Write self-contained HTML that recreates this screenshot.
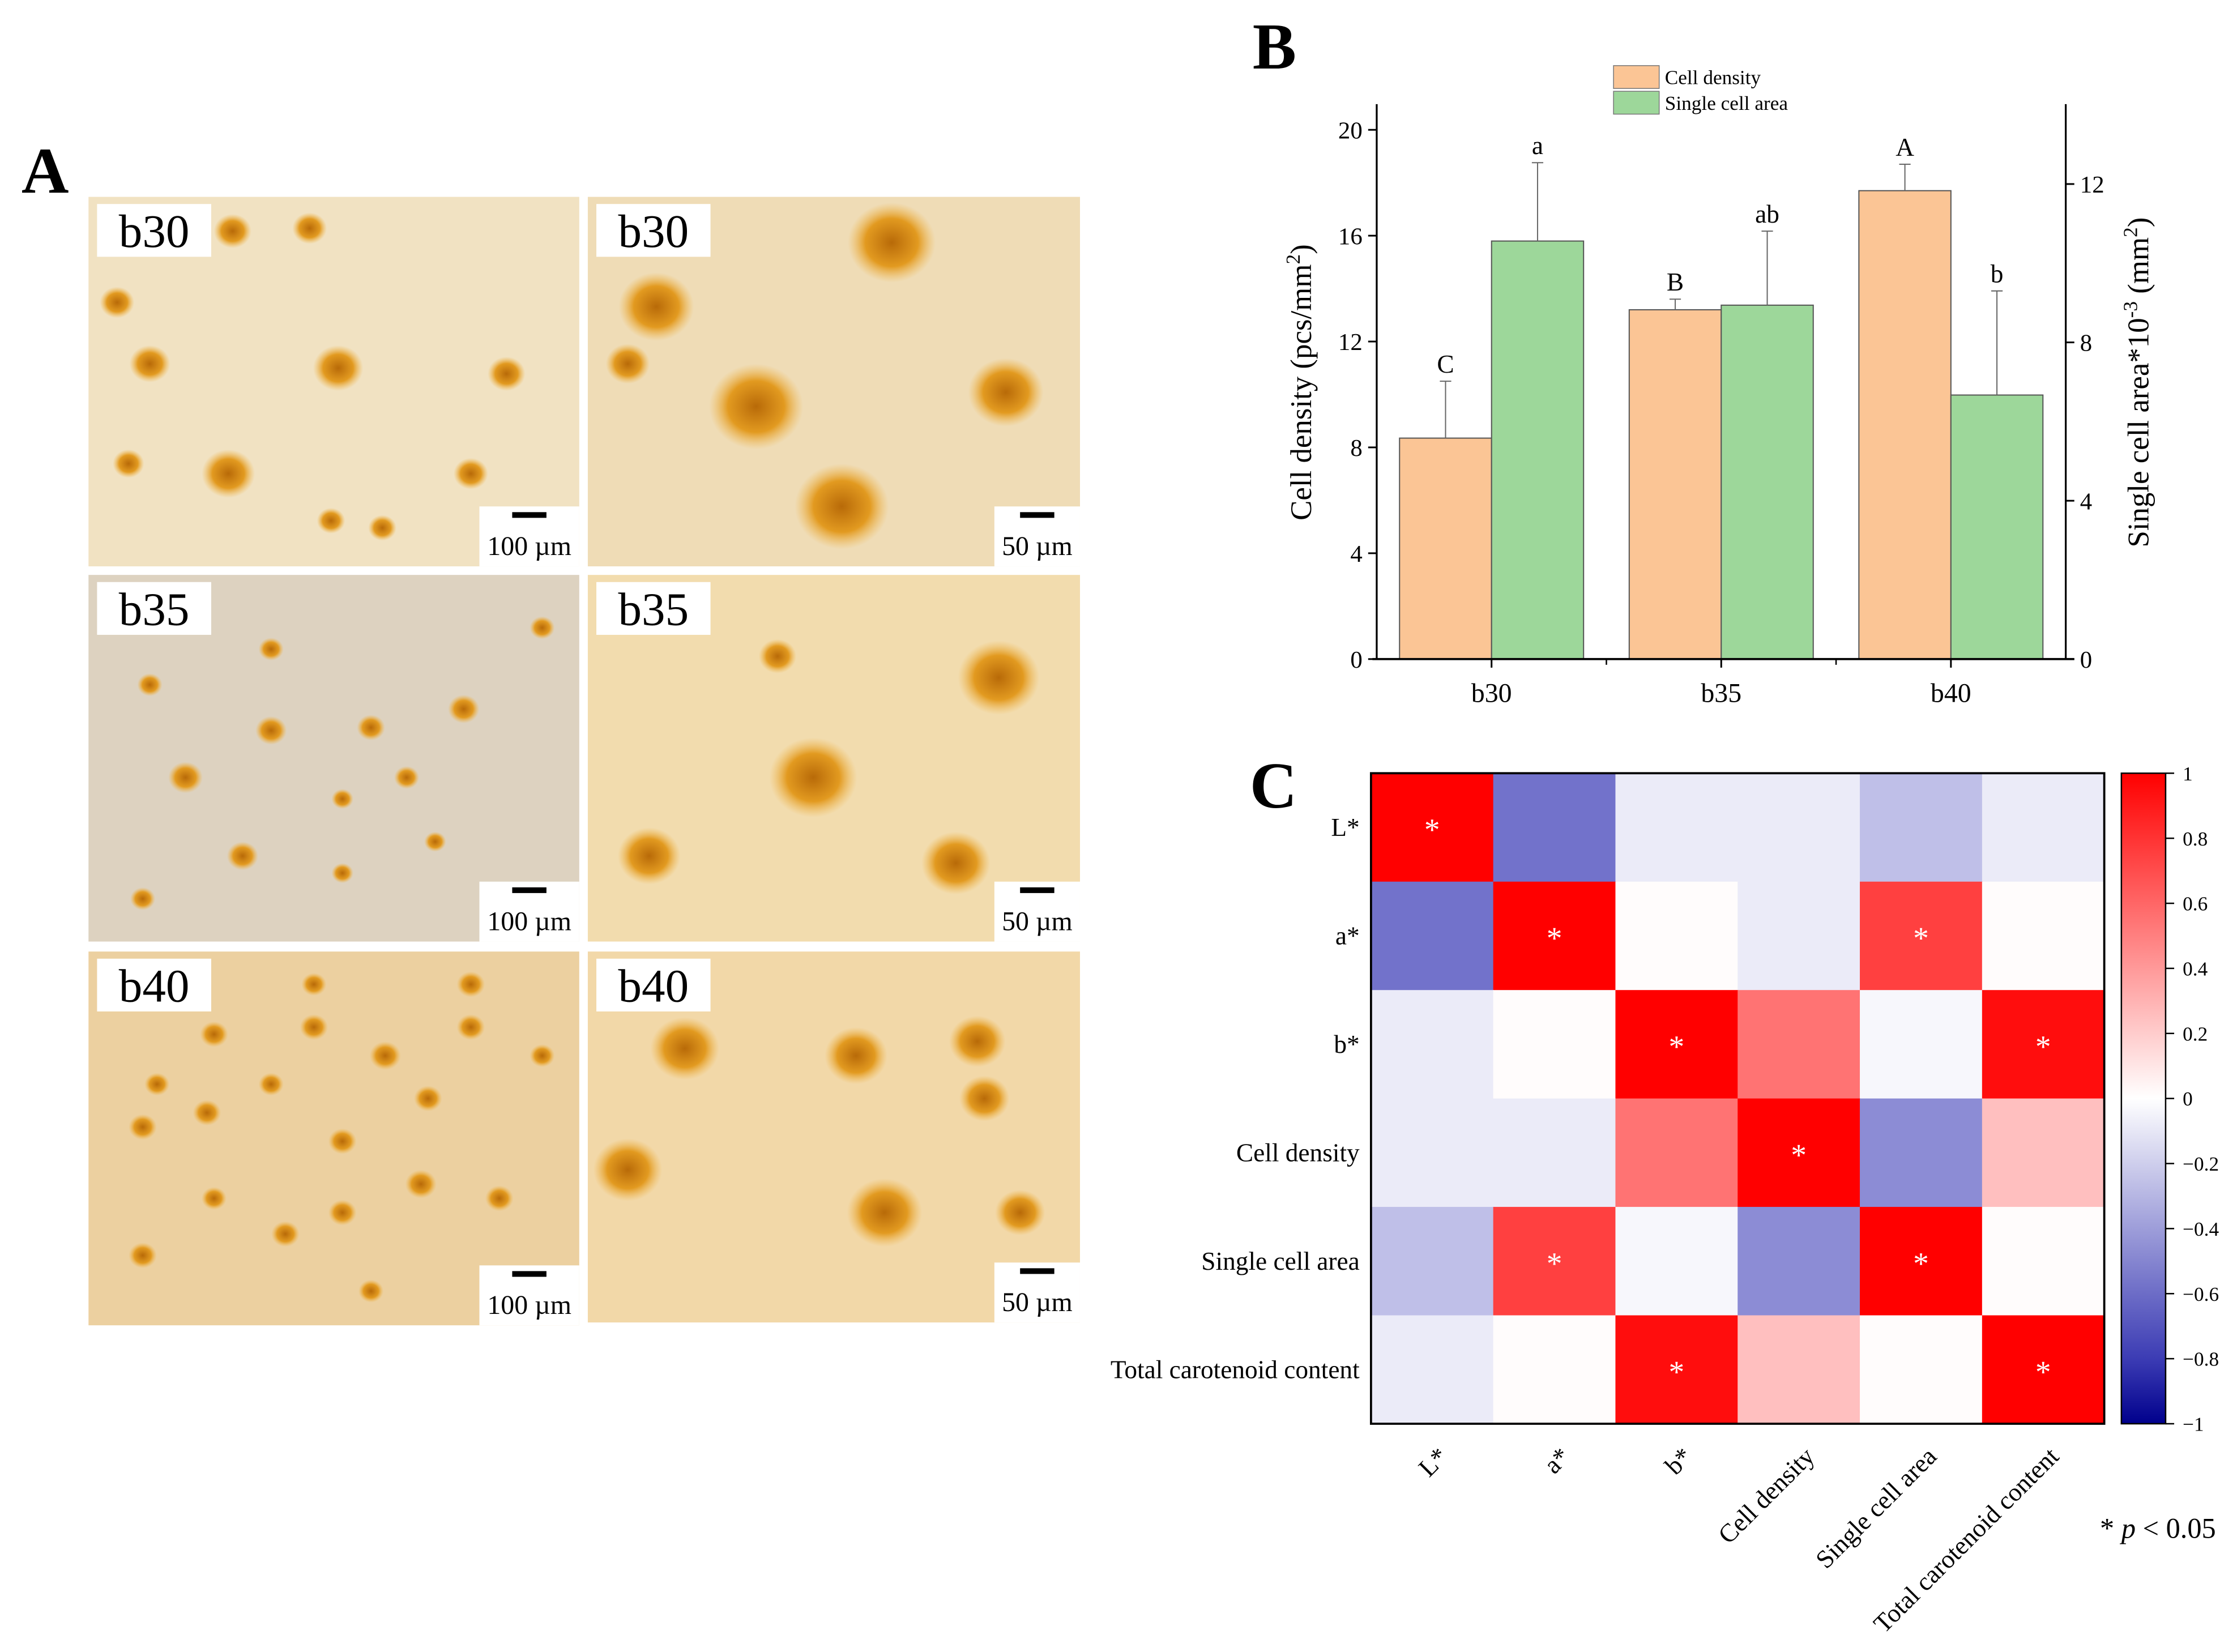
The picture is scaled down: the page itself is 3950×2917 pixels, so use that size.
<!DOCTYPE html>
<html><head><meta charset="utf-8"><style>
html,body{margin:0;padding:0;background:#fff}
svg{display:block;font-family:"Liberation Serif",serif}
</style></head><body>
<svg id="fig" width="3950" height="2917" viewBox="0 0 1568 1158" xmlns="http://www.w3.org/2000/svg">
<defs>
<radialGradient id="blob" cx="50%" cy="50%" r="50%"><stop offset="0%" stop-color="#b86a08"/><stop offset="60%" stop-color="#e29a20"/><stop offset="100%" stop-color="#f0b850" stop-opacity="0"/></radialGradient>
<linearGradient id="cbar" x1="0" y1="1" x2="0" y2="0">
<stop offset="0" stop-color="#00008c"/><stop offset="0.1" stop-color="#3c3cb4"/><stop offset="0.5" stop-color="#ffffff"/><stop offset="1" stop-color="#ff0000"/></linearGradient>
</defs>
<g id="panelA">
<text x="15" y="135" font-size="46" font-weight="bold">A</text>
</g>
<g id="panelB"></g>
<g id="panelC"></g>
</svg>
<script>
const NS='http://www.w3.org/2000/svg';
function mk(p,tag,at,txt){const e=document.createElementNS(NS,tag);for(const k in at)e.setAttribute(k,at[k]);if(txt!==undefined)e.textContent=txt;p.appendChild(e);return e;}

/* ---------- Panel A (photos, decorative) ---------- */
const A=document.getElementById('panelA');
const photos=[
 {x:62,y:138,w:344,h:259,bg:'#f1e2c2',lab:'b30',sb:'100 µm',dots:[[163,162,12],[217,160,11],[82,212,11],[105,255,13],[237,258,16],[355,262,12],[160,332,17],[330,332,11],[232,365,9],[268,370,9],[90,325,10]]},
 {x:412,y:138,w:345,h:259,bg:'#efdcb6',lab:'b30',sb:'50 µm',dots:[[625,170,28],[460,215,24],[530,285,30],[705,275,24],[590,355,30],[440,255,14]]},
 {x:62,y:403,w:344,h:257,bg:'#ddd2c0',lab:'b35',sb:'100 µm',dots:[[120,430,8],[190,455,8],[380,440,8],[105,480,8],[190,512,10],[260,510,9],[325,497,10],[130,545,11],[240,560,7],[285,545,8],[170,600,10],[305,590,7],[240,612,7],[100,630,8]]},
 {x:412,y:403,w:345,h:257,bg:'#f2dcae',lab:'b35',sb:'50 µm',dots:[[570,545,28],[700,475,26],[455,600,20],[670,605,22],[545,460,12]]},
 {x:62,y:667,w:344,h:262,bg:'#ecd0a0',lab:'b40',sb:'100 µm',dots:[[90,700,8],[220,690,8],[330,690,9],[150,725,9],[220,720,9],[270,740,10],[330,720,9],[110,760,8],[190,760,8],[300,770,9],[380,740,8],[145,780,9],[240,800,9],[100,790,9],[295,830,10],[150,840,8],[200,865,9],[100,880,9],[240,850,9],[350,840,9],[260,905,8]]},
 {x:412,y:667,w:345,h:260,bg:'#f2d8a8',lab:'b40',sb:'50 µm',dots:[[480,735,22],[600,740,20],[685,730,18],[440,820,22],[620,850,24],[690,770,16],[715,850,16]]}
];
photos.forEach((p,i)=>{
 const g=mk(A,'g',{});
 
 
 mk(g,'rect',{x:p.x,y:p.y,width:p.w,height:p.h,fill:p.bg});
 p.dots.forEach(d=>mk(g,'ellipse',{cx:d[0],cy:d[1],rx:d[2]*1.1,ry:d[2],fill:'url(#blob)'}));
 mk(g,'rect',{x:p.x+6,y:p.y+5,width:80,height:37,fill:'#fff'});
 mk(g,'text',{x:p.x+46,y:p.y+35,'font-size':33,'text-anchor':'middle'},p.lab);
 const bw=p.sb.length>5?70:60;
 mk(g,'rect',{x:p.x+p.w-bw,y:p.y+p.h-42,width:bw,height:42,fill:'#fff'});
 mk(g,'rect',{x:p.x+p.w-bw/2-12,y:p.y+p.h-38,width:24,height:4,fill:'#000'});
 mk(g,'text',{x:p.x+p.w-bw/2,y:p.y+p.h-8,'font-size':19,'text-anchor':'middle'},p.sb);
});

/* ---------- Panel B (bar chart) ---------- */
const categories=['b30','b35','b40'];
const densityVals=[8.35,13.2,17.7];
const densityErr=[2.15,0.4,1.0];
const areaVals=[10.56,8.94,6.67];
const areaErr=[1.98,1.87,2.63];
const densityLetters=['C','B','A'];
const areaLetters=['a','ab','b'];
const leftTicks=[0,4,8,12,16,20];
const rightTicks=[0,4,8,12];

const B=document.getElementById('panelB');
const X0=965,X1=1448,Y0=462,YT=73;
const yL=v=>Y0-v*18.55, yR=v=>Y0-v*27.75;
const groupW=(X1-X0)/3, barW=64.5;
const cx=i=>X0+groupW*(i+0.5);
mk(B,'text',{x:878,y:48,'font-size':46,'font-weight':'bold'},'B');
categories.forEach((c,i)=>{
 const c0=cx(i);
 let r=mk(B,'rect',{x:c0-barW,y:yL(densityVals[i]),width:barW,height:Y0-yL(densityVals[i]),fill:'#fbc595',stroke:'#555','stroke-width':0.8});
 
 
 let r2=mk(B,'rect',{x:c0,y:yR(areaVals[i]),width:barW,height:Y0-yR(areaVals[i]),fill:'#9dd79a',stroke:'#555','stroke-width':0.8});
 
 
 const dx=c0-barW/2, ax=c0+barW/2;
 const e1=yL(densityVals[i]+densityErr[i]);
 mk(B,'line',{x1:dx,x2:dx,y1:yL(densityVals[i]),y2:e1,stroke:'#666','stroke-width':0.8});
 mk(B,'line',{x1:dx-4,x2:dx+4,y1:e1,y2:e1,stroke:'#666','stroke-width':0.8});
 const e2=yR(areaVals[i]+areaErr[i]);
 mk(B,'line',{x1:ax,x2:ax,y1:yR(areaVals[i]),y2:e2,stroke:'#666','stroke-width':0.8});
 mk(B,'line',{x1:ax-4,x2:ax+4,y1:e2,y2:e2,stroke:'#666','stroke-width':0.8});
 let t=mk(B,'text',{x:dx,y:e1-6,'font-size':18,'text-anchor':'middle'},densityLetters[i]);
 
 
 let t2=mk(B,'text',{x:ax,y:e2-6,'font-size':18,'text-anchor':'middle'},areaLetters[i]);
 
 
 let xl=mk(B,'text',{x:c0,y:492,'font-size':19,'text-anchor':'middle'},c);
 
 
 mk(B,'line',{x1:c0,x2:c0,y1:Y0,y2:Y0+6,stroke:'#000','stroke-width':1.2});
 if(i<2) mk(B,'line',{x1:X0+groupW*(i+1),x2:X0+groupW*(i+1),y1:Y0,y2:Y0+4,stroke:'#000','stroke-width':1});
});
mk(B,'line',{x1:X0,x2:X0,y1:YT,y2:Y0,stroke:'#000','stroke-width':1.3});
mk(B,'line',{x1:X1,x2:X1,y1:YT,y2:Y0,stroke:'#000','stroke-width':1.3});
mk(B,'line',{x1:X0-3,x2:X1+6,y1:Y0,y2:Y0,stroke:'#000','stroke-width':1.5});
leftTicks.forEach(v=>{mk(B,'line',{x1:X0-6,x2:X0,y1:yL(v),y2:yL(v),stroke:'#000','stroke-width':1.2});
 mk(B,'text',{x:X0-10,y:yL(v)+6,'font-size':17,'text-anchor':'end'},v);});
rightTicks.forEach(v=>{mk(B,'line',{x1:X1,x2:X1+6,y1:yR(v),y2:yR(v),stroke:'#000','stroke-width':1.2});
 mk(B,'text',{x:X1+10,y:yR(v)+6,'font-size':17},v);});
let yt=mk(B,'text',{transform:'translate(919,268) rotate(-90)','font-size':21,'text-anchor':'middle'});

yt.innerHTML='Cell density (pcs/mm<tspan font-size="14" dy="-8">2</tspan><tspan dy="8">)</tspan>';
let yt2=mk(B,'text',{transform:'translate(1506,268) rotate(-90)','font-size':21,'text-anchor':'middle'});

yt2.innerHTML='Single cell area*10<tspan font-size="14" dy="-8">-3</tspan><tspan dy="8"> (mm</tspan><tspan font-size="14" dy="-8">2</tspan><tspan dy="8">)</tspan>';
let lg=mk(B,'g',{});
mk(lg,'rect',{x:1131,y:46,width:32,height:16,fill:'#fbc595',stroke:'#777','stroke-width':0.6});
mk(lg,'text',{x:1167,y:59,'font-size':14},'Cell density');
mk(lg,'rect',{x:1131,y:64,width:32,height:16,fill:'#9dd79a',stroke:'#777','stroke-width':0.6});
mk(lg,'text',{x:1167,y:77,'font-size':14},'Single cell area');

/* ---------- Panel C (heatmap) ---------- */
const vars=['L*','a*','b*','Cell density','Single cell area','Total carotenoid content'];
const corrL=[1,-0.55,-0.08,-0.08,-0.25,-0.08];
const corrA=[-0.55,1,0.01,-0.08,0.75,0.01];
const corrB=[-0.08,0.01,1,0.55,-0.03,0.95];
const corrDensity=[-0.08,-0.08,0.55,1,-0.45,0.25];
const corrArea=[-0.25,0.75,-0.03,-0.45,1,0.01];
const corrTCC=[-0.08,0.01,0.95,0.25,0.01,1];
const sigL=[1,0,0,0,0,0],sigA=[0,1,0,0,1,0],sigB=[0,0,1,0,0,1],sigDensity=[0,0,0,1,0,0],sigArea=[0,1,0,0,1,0],sigTCC=[0,0,1,0,0,1];
const cbTicks=['1','0.8','0.6','0.4','0.2','0','−0.2','−0.4','−0.6','−0.8','−1'];
const corr=[corrL,corrA,corrB,corrDensity,corrArea,corrTCC];
const sig=[sigL,sigA,sigB,sigDensity,sigArea,sigTCC];

function col(v){
 if(v>=0){const c=Math.round(255*(1-v));return `rgb(255,${c},${c})`;}
 const t=-v;
 if(t<=0.8){const c=Math.round(255-205*t/0.8);const b=Math.round(255-75*t/0.8);return `rgb(${c},${c},${b})`;}
 const u=(t-0.8)/0.2;const c=Math.round(50*(1-u));return `rgb(${c},${c},${Math.round(180-40*u)})`;
}
const C=document.getElementById('panelC');
const HX=961,HY=542,HW=514,HH=456,cw=HW/6,ch=HH/6;
mk(C,'text',{x:876,y:566,'font-size':46,'font-weight':'bold'},'C');
corr.forEach((row,r)=>row.forEach((v,c)=>{
 let cell=mk(C,'rect',{x:HX+c*cw,y:HY+r*ch,width:cw+0.5,height:ch+0.5,fill:col(v)});
 
 
 if(sig[r][c]) mk(C,'text',{x:HX+c*cw+cw/2,y:HY+r*ch+ch/2+9,'font-size':22,fill:'#fff','text-anchor':'middle'},'*');
}));
mk(C,'rect',{x:HX,y:HY,width:HW,height:HH,fill:'none',stroke:'#000','stroke-width':1.5});
vars.forEach((n,i)=>{
 let t=mk(C,'text',{x:953,y:HY+i*ch+ch/2+6,'font-size':18,'text-anchor':'end'},n);
 
 const px=HX+i*cw+cw/2+12, py=HY+HH+24;
 let t2=mk(C,'text',{transform:`translate(${px},${py}) rotate(-45)`,'font-size':18,'text-anchor':'end'},n);
 
});
let cb=mk(C,'rect',{x:1487,y:HY,width:31,height:HH,fill:'url(#cbar)',stroke:'#000','stroke-width':1});

cbTicks.forEach((t,i)=>{const y=HY+HH*i/10;
 mk(C,'line',{x1:1518,x2:1524,y1:y,y2:y,stroke:'#000','stroke-width':1});
 mk(C,'text',{x:1530,y:y+5,'font-size':14},t);});
let pv=mk(C,'text',{x:1472,y:1078,'font-size':20});

pv.innerHTML='* <tspan font-style="italic">p</tspan> &lt; 0.05';
</script>
</body></html>
